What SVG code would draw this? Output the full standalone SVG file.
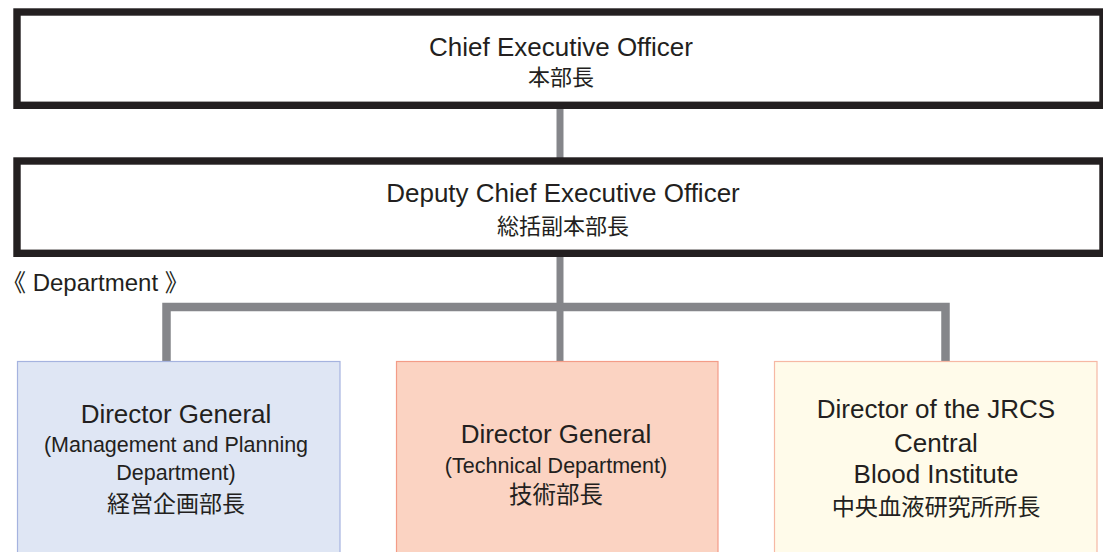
<svg xmlns="http://www.w3.org/2000/svg" width="1103" height="552" viewBox="0 0 1103 552">
<style>
.top{fill:#ffffff;stroke:#231f20;stroke-width:7.4}
.en{font-family:"Liberation Sans",Arial,sans-serif;fill:#231f20;text-anchor:middle}
.jp{font-family:"Liberation Sans","Noto Sans CJK JP",sans-serif;fill:#231f20;text-anchor:middle}
.t1{font-size:26px}
.t2{font-size:21.5px}
.t3{font-size:22px}
.conn{fill:none;stroke:#85868a;stroke-width:8.5;stroke-linejoin:miter}
</style>
<rect width="1103" height="552" fill="#ffffff"/>
<g id="connectors">
<path class="conn" style="stroke-width:7" d="M560,105 V161"/>
<path class="conn" style="stroke-width:7" d="M560,253 V361"/>
<path class="conn" d="M166.5,361 V307 H945.5 V361"/>
</g>
<g id="ceo">
<rect class="top" x="17" y="12" width="1086" height="93.3"/>
<text class="en t1" x="561" y="56">Chief Executive Officer</text>
<text class="jp t3" x="561" y="85">本部長</text>
</g>
<g id="deputy">
<rect class="top" x="17" y="161" width="1086" height="92.3"/>
<text class="en t1" x="563" y="201.5">Deputy Chief Executive Officer</text>
<text class="jp t3" x="563" y="233.5">総括副本部長</text>
</g>
<g id="dept-label">
<text class="jp" style="font-size:24px;text-anchor:start" x="2" y="290.7">《 Department 》</text>
</g>
<g id="mgmt">
<rect x="17.5" y="361.5" width="322.5" height="200" fill="#dfe6f4" stroke="#a5b3df" stroke-width="1.2"/>
<text class="en t1" x="176" y="423">Director General</text>
<text class="en t2" x="176" y="452">(Management and Planning</text>
<text class="en t2" x="176" y="480">Department)</text>
<text class="jp" style="font-size:23px" x="176" y="512">経営企画部長</text>
</g>
<g id="tech">
<rect x="396.5" y="361.5" width="321.5" height="200" fill="#fbd3c2" stroke="#f39c87" stroke-width="1.2"/>
<text class="en t1" x="556" y="443.3">Director General</text>
<text class="en t2" x="556" y="472.5">(Technical Department)</text>
<text class="jp" style="font-size:23.5px" x="556" y="503">技術部長</text>
</g>
<g id="blood">
<rect x="774.5" y="361.5" width="322.5" height="200" fill="#fffbea" stroke="#f6b8a4" stroke-width="1.2"/>
<text class="en t1" x="936" y="418.3">Director of the JRCS</text>
<text class="en t1" x="936" y="451.7">Central</text>
<text class="en t1" x="936" y="483.3">Blood Institute</text>
<text class="jp" style="font-size:23.2px" x="936" y="515">中央血液研究所所長</text>
</g>
</svg>
